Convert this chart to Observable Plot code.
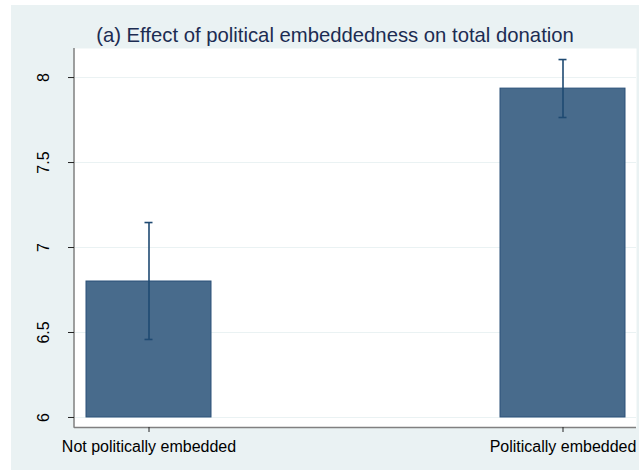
<!DOCTYPE html>
<html>
<head>
<meta charset="utf-8">
<script src="https://cdn.jsdelivr.net/npm/d3@7"></script>
<script src="https://cdn.jsdelivr.net/npm/@observablehq/plot@0.6"></script>
<style>
  html, body { margin: 0; padding: 0; background: #ffffff; }
  #wrap { position: absolute; left: 11px; top: 5px; width: 628px; height: 465px; background: #eaf2f3; overflow: hidden; }
  #title { box-sizing: border-box; height: 43px; padding-top: 20px; padding-left: 20px; text-align: center;
           font-family: "Liberation Sans", Arial, sans-serif; font-size: 20.3px; line-height: 20px; color: #1c2c52; white-space: nowrap; }
  #chart svg { display: block; }
</style>
</head>
<body>
<div id="wrap">
  <div id="title">(a) Effect of political embeddedness on total donation</div>
  <div id="chart"></div>
</div>
<script>
const categories = ["Not politically embedded", "Politically embedded"];
const means = [6.80, 7.935];
const lower = [6.459, 7.765];
const upper = [7.147, 8.106];
const yBase = 6;
const yTicks = [6, 6.5, 7, 7.5, 8];
const yTickLabels = ["6", "6.5", "7", "7.5", "8"];
const yDomain = [5.941, 8.171];

const data = categories.map((c, i) => ({cat: c, mean: means[i], lo: lower[i], hi: upper[i]}));

const navy = "#1f4a72";
const axisGray = "#808080";

const leftLine = (index, scales, values, dims) => {
  const ns = "http://www.w3.org/2000/svg";
  const l = document.createElementNS(ns, "line");
  l.setAttribute("x1", dims.marginLeft);
  l.setAttribute("x2", dims.marginLeft);
  l.setAttribute("y1", dims.marginTop);
  l.setAttribute("y2", dims.height - dims.marginBottom + 0.75);
  l.setAttribute("stroke", axisGray);
  l.setAttribute("stroke-width", 1.5);
  return l;
};

const chart = Plot.plot({
  width: 628,
  height: 422,
  marginLeft: 63,
  marginRight: 3,
  marginTop: 0,
  marginBottom: 43,
  style: {background: "transparent", fontFamily: "'Liberation Sans', Arial, sans-serif", fontSize: "16px", color: "#000"},
  x: {type: "band", domain: categories, paddingInner: 0.699, paddingOuter: 0.0277, axis: null},
  y: {type: "linear", domain: yDomain, axis: null},
  marks: [
    Plot.frame({fill: "white", stroke: "none"}),
    Plot.ruleY(yTicks, {stroke: "#eaf2f3", strokeWidth: 1}),
    Plot.barY(data, {x: "cat", y1: yBase, y2: "mean", fill: "#486b8c", stroke: "#2a5078", strokeWidth: 1}),
    Plot.ruleX(data, {x: "cat", y1: "lo", y2: "hi", stroke: navy, strokeWidth: 1.6}),
    Plot.tickY(data, {x: "cat", y: "hi", stroke: navy, strokeWidth: 1.6, insetLeft: 58.5, insetRight: 58.5}),
    Plot.tickY(data, {x: "cat", y: "lo", stroke: navy, strokeWidth: 1.6, insetLeft: 58.5, insetRight: 58.5}),
    Plot.ruleY([yDomain[0]], {stroke: axisGray, strokeWidth: 1.5}),
    leftLine,
    Plot.axisY(yTicks, {tickSize: 6, tickPadding: 20, tickRotate: -90, stroke: "#222", fill: "#000",
      tickFormat: (d) => yTickLabels[yTicks.indexOf(d)], label: null}),
    Plot.axisX(categories, {tickSize: 5, tickPadding: 8, stroke: "#222", fill: "#000", label: null})
  ]
});
document.getElementById("chart").appendChild(chart);
</script>
</body>
</html>
